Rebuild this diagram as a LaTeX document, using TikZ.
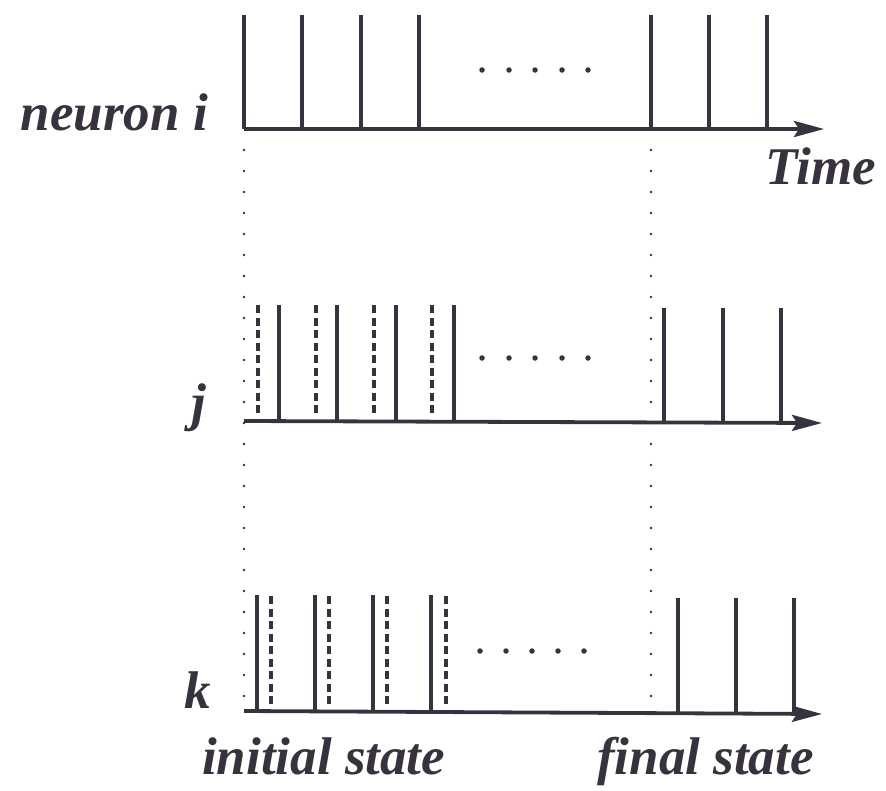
\documentclass[tikz,border=0pt]{standalone}
\usepackage{fontspec}
\setmainfont{Liberation Serif}
\usetikzlibrary{arrows.meta}
\definecolor{ink}{RGB}{55,50,62}
\begin{document}
\begin{tikzpicture}[x=1pt,y=-1pt,
  spike/.style={line width=3.4pt, draw=ink},
  ghost/.style={line width=3.4pt, draw=ink, dash pattern=on 8pt off 4.5pt},
  guide/.style={line width=2.8pt, draw=ink, line cap=round, dash pattern=on 0pt off 21pt},
  axisline/.style={line width=3.8pt, draw=ink, -{Stealth[length=30pt,width=16pt,inset=5pt]}},
  lab/.style={font=\fontsize{53}{60}\selectfont\bfseries\itshape, text=ink, inner sep=0pt},
  dotmark/.style={fill=ink, draw=none, circle, minimum size=5.5pt, inner sep=0pt}]
\useasboundingbox (0,0) rectangle (886,790);

% guides
\coordinate (gi1) at (244,150); \coordinate (gi2) at (244,705);
\coordinate (gf1) at (651,150); \coordinate (gf2) at (651,705);
\draw[guide] (gi1) -- (gi2);
\draw[guide] (gf1) -- (gf2);

% ---- row i ----
\coordinate (ai) at (244,129); \coordinate (bi) at (824,129);
\foreach \x in {244,302,361,419,651,709,767} \draw[spike] (\x,15) -- (\x,129);
\draw[axisline] (ai) -- (bi);
\foreach \x in {482,509,535,562,588} \node[dotmark] at (\x,70) {};
\node[lab, anchor=base east] (ni) at (208,130) {neuron i};
\node[lab, anchor=base east] (time) at (876,184) {Time};

% ---- row j ----
\coordinate (aj) at (244,421); \coordinate (bj) at (822,423);
\foreach \x in {258,316,374,432} \draw[ghost] (\x,305) -- (\x,414);
\foreach \x in {279,337,396,454} \draw[spike] (\x,305) -- (\x,421);
\foreach \x in {664,723,781} \draw[spike] (\x,308) -- (\x,423);
\draw[axisline] (aj) -- (bj);
\foreach \x in {482,509,535,562,588} \node[dotmark] at (\x,358) {};
\node[lab, anchor=base east] (nj) at (206,420) {j};

% ---- row k ----
\coordinate (ak) at (244,711); \coordinate (bk) at (822,714);
\foreach \x in {271,329,387,446} \draw[ghost] (\x,596) -- (\x,705);
\foreach \x in {257,315,373,431} \draw[spike] (\x,595) -- (\x,711);
\foreach \x in {678,736,794} \draw[spike] (\x,598) -- (\x,713);
\draw[axisline] (ak) -- (bk);
\foreach \x in {480,506,532,558,584} \node[dotmark] at (\x,651) {};
\node[lab, anchor=base east] (nk) at (211,708) {k};

\node[lab, anchor=base west] (init) at (202,774) {initial state};
\node[lab, anchor=base west] (fin) at (597,774) {final state};
\end{tikzpicture}
\end{document}
